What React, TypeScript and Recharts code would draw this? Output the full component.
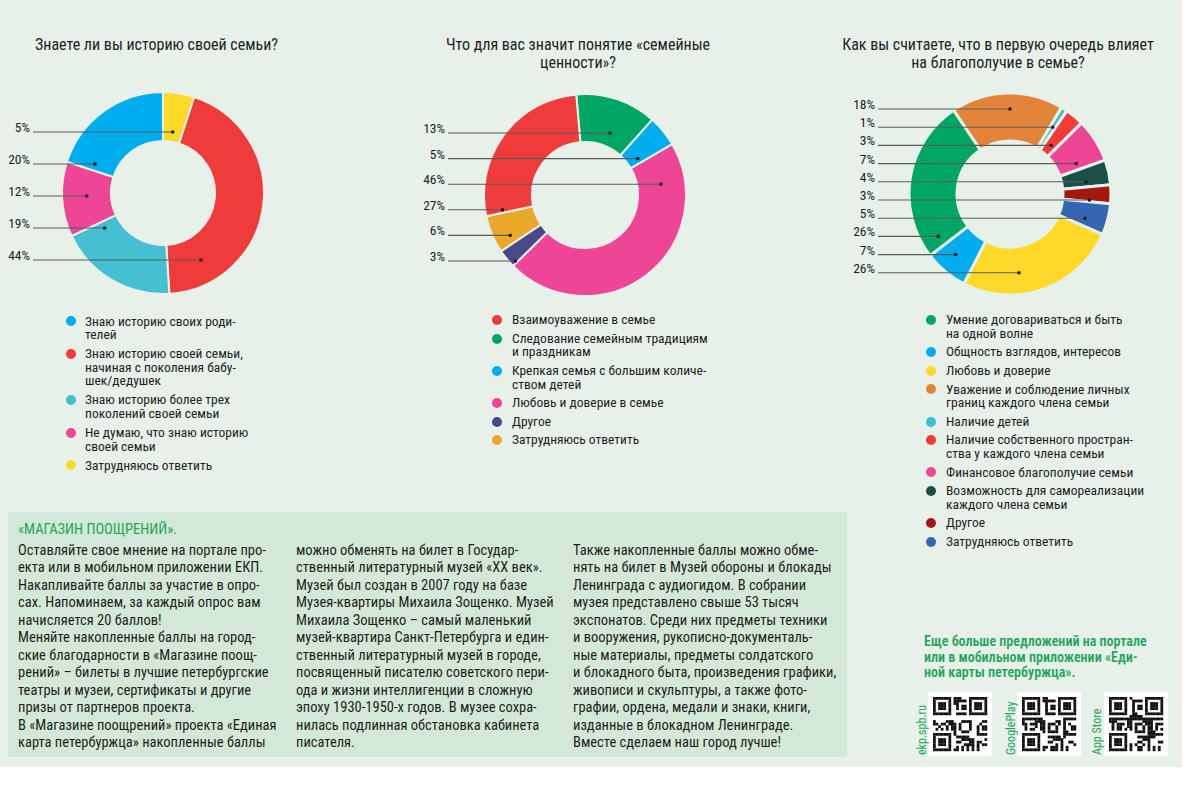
import React from 'react';
import { PieChart, Pie, Cell } from 'recharts';

const FONT = "'Roboto Condensed','Liberation Sans Narrow','Arial Narrow','DejaVu Sans Condensed','Noto Sans',sans-serif";
const PAGE_BG = '#e7f1ea';
const BOX_BG = '#d3e8d6';
const GREEN = '#1fa65a';
const INK = '#1e1e1e';

// ---------- Question 1 ----------
const q1Title = ['Знаете ли вы историю своей семьи?'];
const q1Categories = [
  'Знаю историю своих роди-\nтелей',
  'Знаю историю своей семьи,\nначиная с поколения бабу-\nшек/дедушек',
  'Знаю историю более трех\nпоколений своей семьи',
  'Не думаю, что знаю историю\nсвоей семьи',
  'Затрудняюсь ответить',
];
const q1Values = [20, 44, 19, 12, 5];
const q1Colors = ['#00aeef', '#ef3b39', '#45c0d2', '#ee4597', '#ffd927'];
const q1PieOrder = [4, 1, 2, 3, 0];
const q1LabelOrder = [4, 0, 3, 2, 1];

// ---------- Question 2 ----------
const q2Title = ['Что для вас значит понятие «семейные', 'ценности»?'];
const q2Categories = [
  'Взаимоуважение в семье',
  'Следование семейным традициям\nи праздникам',
  'Крепкая семья с большим количе-\nством детей',
  'Любовь и доверие в семье',
  'Другое',
  'Затрудняюсь ответить',
];
const q2Values = [27, 13, 5, 46, 3, 6];
const q2Colors = ['#ef3b39', '#00a663', '#00aeef', '#ee4597', '#4a4889', '#e9a829'];
const q2PieOrder = [1, 2, 3, 4, 5, 0];
const q2LabelOrder = [1, 2, 3, 0, 5, 4];

// ---------- Question 3 ----------
const q3Title = ['Как вы считаете, что в первую очередь влияет', 'на благополучие в семье?'];
const q3Categories = [
  'Умение договариваться и быть\nна одной волне',
  'Общность взглядов, интересов',
  'Любовь и доверие',
  'Уважение и соблюдение личных\nграниц каждого члена семьи',
  'Наличие детей',
  'Наличие собственного простран-\nства у каждого члена семьи',
  'Финансовое благополучие семьи',
  'Возможность для самореализации\nкаждого члена семьи',
  'Другое',
  'Затрудняюсь ответить',
];
const q3Values = [26, 7, 26, 18, 1, 3, 7, 4, 3, 5];
const q3Colors = ['#00a663', '#00aeef', '#ffd927', '#e3843b', '#3bbfd3', '#ef3b39', '#ee4597', '#1b5048', '#a2170f', '#3566b3'];
const q3PieOrder = [3, 4, 5, 6, 7, 8, 9, 2, 1, 0];
const q3LabelOrder = [3, 4, 5, 6, 7, 8, 9, 0, 1, 2];

// ---------- Text block ----------
const promoTitle = '«МАГАЗИН ПООЩРЕНИЙ».';
const promoCol1 = [
  'Оставляйте свое мнение на портале про-',
  'екта или в мобильном приложении ЕКП.',
  'Накапливайте баллы за участие в опро-',
  'сах. Напоминаем, за каждый опрос вам',
  'начисляется 20 баллов!',
  'Меняйте накопленные баллы на город-',
  'ские благодарности в «Магазине поощ-',
  'рений» – билеты в лучшие петербургские',
  'театры и музеи, сертификаты и другие',
  'призы от партнеров проекта.',
  'В «Магазине поощрений» проекта «Единая',
  'карта петербуржца» накопленные баллы',
];
const promoCol2 = [
  'можно обменять на билет в Государ-',
  'ственный литературный музей «XX век».',
  'Музей был создан в 2007 году на базе',
  'Музея-квартиры Михаила Зощенко. Музей',
  'Михаила Зощенко – самый маленький',
  'музей-квартира Санкт-Петербурга и един-',
  'ственный литературный музей в городе,',
  'посвященный писателю советского пери-',
  'ода и жизни интеллигенции в сложную',
  'эпоху 1930-1950-х годов. В музее сохра-',
  'нилась подлинная обстановка кабинета',
  'писателя.',
];
const promoCol3 = [
  'Также накопленные баллы можно обме-',
  'нять на билет в Музей обороны и блокады',
  'Ленинграда с аудиогидом. В собрании',
  'музея представлено свыше 53 тысяч',
  'экспонатов. Среди них предметы техники',
  'и вооружения, рукописно-документаль-',
  'ные материалы, предметы солдатского',
  'и блокадного быта, произведения графики,',
  'живописи и скульптуры, а также фото-',
  'графии, ордена, медали и знаки, книги,',
  'изданные в блокадном Ленинграде.',
  'Вместе сделаем наш город лучше!',
];
const moreText = [
  'Еще больше предложений на портале',
  'или в мобильном приложении «Еди-',
  'ной карты петербуржца».',
];
const qrLabels = ['ekp.spb.ru', 'GooglePlay', 'App Store'];

type Layout = {
  cx: number; cy: number; inner: number; outer: number; startAngle: number;
  labelX: number; firstRow: number; rowStep: number; stroke: number;
  titleX: number; titleAlign: 'left' | 'center'; titleW: number;
  legendDotX: number; legendTextX: number; legendTop: number; legendLH: number; legendGap: number;
};

const layouts: Layout[] = [
  { cx: 163, cy: 193, inner: 52, outer: 101, startAngle: 90, labelX: 33, firstRow: -61, rowStep: 32, stroke: 2,
    titleX: 35, titleAlign: 'left', titleW: 300,
    legendDotX: 70.5, legendTextX: 85, legendTop: 321.5, legendLH: 13.6, legendGap: 5.4 },
  { cx: 585, cy: 195, inner: 53, outer: 101, startAngle: 95, labelX: 448, firstRow: -62, rowStep: 25.6, stroke: 2,
    titleX: 428, titleAlign: 'center', titleW: 300,
    legendDotX: 497, legendTextX: 512, legendTop: 320, legendLH: 13.6, legendGap: 5 },
  { cx: 1010, cy: 194, inner: 53, outer: 101, startAngle: 124, labelX: 878, firstRow: -85, rowStep: 18.2, stroke: 3,
    titleX: 828, titleAlign: 'center', titleW: 340,
    legendDotX: 931, legendTextX: 946, legendTop: 320, legendLH: 13.6, legendGap: 5 },
];

const questions = [
  { title: q1Title, categories: q1Categories, values: q1Values, colors: q1Colors, pieOrder: q1PieOrder, labelOrder: q1LabelOrder },
  { title: q2Title, categories: q2Categories, values: q2Values, colors: q2Colors, pieOrder: q2PieOrder, labelOrder: q2LabelOrder },
  { title: q3Title, categories: q3Categories, values: q3Values, colors: q3Colors, pieOrder: q3PieOrder, labelOrder: q3LabelOrder },
];

function findDotX(cx: number, cy: number, inner: number, outer: number, sA: number, eA: number, rowY: number, midAngle: number): number {
  const lo = Math.min(sA, eA);
  const span = Math.abs(sA - eA);
  let minX = Infinity;
  let maxX = -Infinity;
  for (let x = cx - outer; x <= cx + outer; x += 0.5) {
    const dx = x - cx;
    const dy = rowY - cy;
    const r = Math.hypot(dx, dy);
    if (r < inner + 3 || r > outer - 3) continue;
    const a = (Math.atan2(-dy, dx) * 180) / Math.PI;
    const rel = (((a - lo) % 360) + 360) % 360;
    if (rel <= span) {
      minX = Math.min(minX, x);
      maxX = Math.max(maxX, x);
    }
  }
  if (!isFinite(minX)) {
    const rm = (inner + outer) / 2;
    return cx + rm * Math.cos((-midAngle * Math.PI) / 180);
  }
  return (minX + maxX) / 2;
}

const makeLabel = (L: Layout, labelOrder: number[]) => (props: any) => {
  const { cx, cy, innerRadius, outerRadius, startAngle, endAngle, midAngle } = props;
  const idx = props.idx ?? props.payload?.idx;
  const row = labelOrder.indexOf(idx);
  const y = cy + L.firstRow + row * L.rowStep;
  const dotX = findDotX(cx, cy, innerRadius, outerRadius, startAngle, endAngle, y, midAngle);
  return (
    <g key={`lbl-${idx}`}>
      <line x1={L.labelX} y1={y} x2={dotX} y2={y} stroke="#5b5b5b" strokeWidth={1.1} />
      <rect x={dotX - 1.5} y={y - 1.5} width={3} height={3} fill="#1a1a1a" />
      <text x={L.labelX - 3} y={y - 5} textAnchor="end" dominantBaseline="central"
        fontFamily={FONT} fontSize={13.5} fill={INK}>{`${props.value}%`}</text>
    </g>
  );
};

function QR({ seed, size }: { seed: number; size: number }) {
  const n = 21;
  const m = (size - 10) / n;
  const cells: React.ReactNode[] = [];
  const inFinder = (i: number, j: number) =>
    (i < 8 && j < 8) || (i < 8 && j >= n - 8) || (i >= n - 8 && j < 8);
  const finderOn = (i: number, j: number) => {
    const fi = i >= n - 8 ? i - (n - 7) : i;
    const fj = j >= n - 8 ? j - (n - 7) : j;
    if (fi < 0 || fj < 0 || fi > 6 || fj > 6) return false;
    if (fi === 0 || fi === 6 || fj === 0 || fj === 6) return true;
    return fi >= 2 && fi <= 4 && fj >= 2 && fj <= 4;
  };
  for (let i = 0; i < n; i++) {
    for (let j = 0; j < n; j++) {
      let on: boolean;
      if (inFinder(i, j)) on = finderOn(i, j);
      else {
        const h = (i * 73 + j * 151 + seed * 197 + i * j * 29 + ((i ^ j) * 13)) % 11;
        on = h < 5;
      }
      if (on) cells.push(<rect key={`${i}-${j}`} x={5 + j * m} y={5 + i * m} width={m + 0.2} height={m + 0.2} fill="#111" />);
    }
  }
  return (
    <g>
      <rect x={0} y={0} width={size} height={size} fill="#ffffff" />
      {cells}
    </g>
  );
}

export default function App() {
  return (
    <div style={{ position: 'absolute', left: 0, top: 0, width: 1200, height: 789, background: '#ffffff', fontFamily: FONT, color: INK, overflow: 'hidden' }}>
      <div style={{ position: 'absolute', left: 0, top: 0, width: 1182, height: 767, background: PAGE_BG }} />

      {/* Titles */}
      {questions.map((q, k) => {
        const L = layouts[k];
        return (
          <div key={`t${k}`} style={{ position: 'absolute', left: L.titleX, top: 36, width: L.titleW, textAlign: L.titleAlign, fontSize: 16, lineHeight: '18px', whiteSpace: 'nowrap', color: INK }}>
            {q.title.map((t, i) => <div key={i}>{t}</div>)}
          </div>
        );
      })}

      {/* Donuts */}
      <div style={{ position: 'absolute', left: 0, top: 0 }}>
        <PieChart width={1200} height={310} margin={{ top: 0, right: 0, bottom: 0, left: 0 }}>
          {questions.map((q, k) => {
            const L = layouts[k];
            const data = q.pieOrder.map((i) => ({ idx: i, name: q.categories[i], value: q.values[i], color: q.colors[i] }));
            return (
              <Pie key={`p${k}`} data={data} dataKey="value" nameKey="name" cx={L.cx} cy={L.cy}
                innerRadius={L.inner} outerRadius={L.outer} startAngle={L.startAngle} endAngle={L.startAngle - 360}
                stroke={PAGE_BG} strokeWidth={L.stroke} isAnimationActive={false} labelLine={false}
                label={makeLabel(L, q.labelOrder)}>
                {data.map((d) => <Cell key={`c${d.idx}`} fill={d.color} />)}
              </Pie>
            );
          })}
        </PieChart>
      </div>

      {/* Legends */}
      {questions.map((q, k) => {
        const L = layouts[k];
        return (
          <div key={`lg${k}`} style={{ position: 'absolute', left: L.legendDotX - 5, top: L.legendTop - L.legendLH / 2 }}>
            {q.categories.map((c, i) => (
              <div key={i} style={{ display: 'flex', alignItems: 'flex-start', marginBottom: L.legendGap }}>
                <div style={{ width: 10, height: 10, borderRadius: 5, background: q.colors[i], marginTop: L.legendLH / 2 - 5, flex: 'none' }} />
                <div style={{ marginLeft: L.legendTextX - L.legendDotX - 5, fontSize: 13.5, lineHeight: `${L.legendLH}px`, whiteSpace: 'pre', color: INK }}>{c}</div>
              </div>
            ))}
          </div>
        );
      })}

      {/* Promo box */}
      <div style={{ position: 'absolute', left: 8, top: 512, width: 839, height: 245, background: BOX_BG }}>
        <div style={{ position: 'absolute', left: 10, top: 9, fontSize: 14.5, lineHeight: '18px', color: GREEN, whiteSpace: 'nowrap' }}>{promoTitle}</div>
        {[promoCol1, promoCol2, promoCol3].map((col, ci) => (
          <div key={ci} style={{ position: 'absolute', left: [10, 288, 565][ci], top: 29.5, fontSize: 14.5, lineHeight: '17.5px', whiteSpace: 'nowrap', color: INK }}>
            {col.map((l, li) => <div key={li}>{l}</div>)}
          </div>
        ))}
      </div>

      {/* Right promo */}
      <div style={{ position: 'absolute', left: 924, top: 634, fontSize: 14, lineHeight: '15.6px', color: GREEN, fontWeight: 600, whiteSpace: 'nowrap' }}>
        {moreText.map((l, i) => <div key={i}>{l}</div>)}
      </div>
      <svg style={{ position: 'absolute', left: 900, top: 688 }} width={280} height={72}>
        {qrLabels.map((lab, i) => {
          const qx = [28, 117, 204][i];
          const tx = [22, 111, 197][i];
          return (
            <g key={lab}>
              <g transform={`translate(${qx},4)`}><QR seed={i + 1} size={64} /></g>
              <text x={tx} y={67} transform={`rotate(-90 ${tx} 67)`} fontFamily={FONT} fontSize={12} fill={GREEN} dominantBaseline="central">{lab}</text>
            </g>
          );
        })}
      </svg>
    </div>
  );
}
